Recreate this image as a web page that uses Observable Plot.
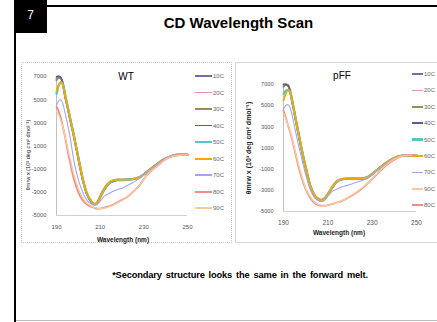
<!DOCTYPE html>
<html><head><meta charset="utf-8">
<script src="https://cdn.jsdelivr.net/npm/d3@7"></script>
<script src="https://cdn.jsdelivr.net/npm/@observablehq/plot@0.6"></script>
<style>
body{margin:0;background:#fff;}
#slide{position:relative;width:437px;height:322px;overflow:hidden;font-family:"Liberation Sans",Arial,sans-serif;background:#fff;}
.abs{position:absolute;}
.lg{position:absolute;font-size:6px;color:#666;white-space:nowrap;line-height:6px;}
.ylab{position:absolute;transform:translate(-50%,-50%) rotate(-90deg);white-space:nowrap;color:#222;}
.xlab{position:absolute;transform:translate(-50%,-50%);white-space:nowrap;color:#222;}
</style></head>
<body>
<div id="slide"></div>
<script>
// ---- data ----
const wavelengths = [190,191,192,193,194,195,196,198,200,202,204,206,207,208,209,210,212,214,216,218,220,222,225,228,230,233,236,240,243,246,250];
const seriesNames = ["10C","20C","30C","40C","50C","60C","70C","80C","90C"];
const seriesColors = ["#7d69a6","#e890c0","#9b8b58","#585e90","#4cc9c8","#f7a800","#a3a3f5","#f28a86","#fbc99a"];
const seriesWidths = [2,1,2.5,1.5,2.5,2,1.2,2,1.5];

const wt10 = [6900,7000,6900,6300,5200,4400,3500,1800,-100,-1900,-3200,-3850,-4000,-4000,-3800,-3400,-2700,-2250,-2050,-1950,-1950,-1900,-1850,-1700,-1450,-1000,-600,-100,150,250,250];
const wt20 = [6800,6950,6850,6250,5150,4350,3450,1750,-150,-1950,-3250,-3900,-4000,-4000,-3800,-3450,-2750,-2300,-2050,-1950,-1950,-1900,-1850,-1700,-1450,-1000,-600,-100,150,250,250];
const wt30 = [6700,6900,6850,6300,5300,4450,3550,1850,0,-1850,-3150,-3800,-4000,-4000,-3750,-3350,-2650,-2200,-2000,-1900,-1900,-1900,-1850,-1700,-1450,-1000,-550,-50,150,250,250];
const wt40 = [7000,7000,6900,6250,5200,4400,3500,1800,-150,-1950,-3200,-3850,-4050,-4050,-3850,-3450,-2750,-2250,-2050,-1950,-1950,-1900,-1850,-1700,-1450,-1000,-600,-100,150,250,250];
const wt50 = [5500,6200,6500,6300,5400,4500,3600,1850,0,-1850,-3150,-3800,-4000,-4050,-3850,-3450,-2750,-2250,-2000,-1950,-1950,-1900,-1850,-1700,-1450,-1000,-600,-100,150,250,250];
const wt60 = [5700,6300,6500,6200,5300,4450,3550,1850,0,-1800,-3100,-3750,-3950,-4000,-3800,-3400,-2650,-2150,-1950,-1900,-1900,-1900,-1850,-1700,-1450,-1000,-600,-100,150,250,250];
const wt70 = [4500,4900,5000,4600,3800,2900,2000,-300,-1900,-3000,-3700,-4000,-4100,-4100,-3950,-3750,-3300,-3100,-2900,-2750,-2650,-2450,-2150,-1800,-1450,-1000,-600,-50,150,250,250];
const wt80 = [4400,4000,3400,2600,1700,700,-200,-1900,-3000,-3700,-4050,-4250,-4300,-4400,-4400,-4400,-4300,-4200,-4050,-3850,-3650,-3450,-2950,-2400,-1850,-1200,-750,-150,100,200,250];
const wt90 = [4000,3700,3200,2600,1800,900,100,-1500,-2700,-3500,-3950,-4200,-4300,-4350,-4400,-4400,-4350,-4250,-4100,-3900,-3700,-3450,-2950,-2400,-1850,-1200,-750,-150,100,200,250];

const pff10 = [7000,7000,6900,6300,5300,4200,3100,1000,-900,-2600,-3500,-3900,-3950,-3900,-3700,-3400,-2750,-2200,-2000,-1920,-1900,-1900,-1900,-1750,-1450,-950,-450,50,250,300,300];
const pff20 = [6900,6950,6850,6250,5250,4150,3050,950,-950,-2650,-3550,-3950,-4000,-3950,-3750,-3450,-2800,-2250,-2000,-1920,-1900,-1900,-1900,-1750,-1450,-950,-450,50,250,300,300];
const pff30 = [6800,7000,6950,6400,5400,4300,3200,1100,-800,-2500,-3450,-3850,-3900,-3850,-3650,-3350,-2700,-2150,-1950,-1900,-1900,-1900,-1900,-1750,-1450,-950,-450,50,250,300,300];
const pff40 = [7000,7000,6900,6300,5300,4200,3100,1000,-900,-2600,-3550,-3950,-4000,-3950,-3750,-3450,-2750,-2200,-2000,-1920,-1900,-1900,-1900,-1750,-1450,-950,-450,50,250,300,300];
const pff50 = [6100,6400,6500,6200,5300,4250,3150,1050,-850,-2550,-3500,-3900,-3950,-3900,-3700,-3400,-2700,-2200,-2000,-1920,-1900,-1900,-1900,-1750,-1450,-950,-450,50,250,300,300];
const pff60 = [5500,6100,6500,6300,5400,4300,3200,1100,-800,-2500,-3450,-3850,-3950,-3900,-3700,-3400,-2700,-2150,-1950,-1900,-1900,-1900,-1900,-1750,-1450,-950,-450,50,250,300,300];
const pff70 = [4700,5000,5100,4800,4000,3000,2000,200,-1500,-2900,-3700,-4000,-4050,-4000,-3800,-3550,-3100,-2900,-2700,-2580,-2450,-2300,-2100,-1850,-1550,-1000,-500,0,200,300,300];
const pff80 = [4500,3900,3200,2500,1700,800,-100,-1700,-2900,-3700,-4200,-4400,-4450,-4450,-4450,-4400,-4300,-4150,-4050,-3850,-3600,-3350,-2900,-2350,-1950,-1300,-700,-100,200,300,300];
const pff90 = [4300,3800,3200,2600,1800,900,50,-1500,-2800,-3600,-4100,-4350,-4400,-4450,-4450,-4400,-4300,-4150,-4000,-3800,-3550,-3300,-2850,-2300,-1900,-1250,-650,-50,200,300,300];

const xTicks = [190,210,230,250];
const yTicks = [7000,5000,3000,1000,-1000,-3000,-5000];
const wtLegendOrder = ["10C","20C","30C","40C","50C","60C","70C","80C","90C"];
const pffLegendOrder = ["10C","20C","30C","40C","50C","60C","70C","90C","80C"];

const slideTitle = "CD Wavelength Scan";
const slideNumber = "7";
const footnote = "*Secondary structure  looks the same in the forward melt.";
const yLabel = "θmrw x (10³ deg cm² dmol⁻¹)";
const xLabel = "Wavelength (nm)";

const wtSeries = [wt10,wt20,wt30,wt40,wt50,wt60,wt70,wt80,wt90];
const pffSeries = [pff10,pff20,pff30,pff40,pff50,pff60,pff70,pff80,pff90];

// ---- page ----
const slide = document.getElementById("slide");
function box(css, html){const d=document.createElement("div");d.className="abs";d.style.cssText=css;if(html!==undefined)d.textContent=html;slide.appendChild(d);return d;}

box("left:14px;top:0;width:2px;height:322px;background:#000;");
box("left:14px;top:0;width:33px;height:33px;background:#000;");
box("left:14px;top:8px;width:33px;color:#fff;font-size:12px;text-align:center;line-height:14px;", slideNumber);
box("left:47px;top:5px;width:390px;height:1.5px;background:#000;");
box("left:16px;top:320px;width:421px;height:1px;background:#bbb;");
box("left:0;top:15px;width:477px;text-align:center;font-weight:bold;font-size:15px;color:#000;line-height:16px;", slideTitle);
box("left:0;top:270px;width:480px;text-align:center;font-weight:bold;font-size:9.3px;color:#000;line-height:10px;word-spacing:1.5px;letter-spacing:-0.15px;", footnote);

// panel frames
box("left:21px;top:62px;width:211px;height:181px;border:1px dotted #c8c8c8;box-sizing:border-box;");
box("left:235px;top:62px;width:210px;height:181px;border:1px solid #d9d9d9;box-sizing:border-box;");

function panel(o){
  const marks = [
    Plot.ruleX([190],{stroke:"#c0c0c0",strokeWidth:1}),
    Plot.ruleY([-5000],{stroke:"#d0d0d0",strokeWidth:1})
  ];
  o.series.forEach((vals,i)=>{
    const d = wavelengths.map((nm,j)=>({nm, v:vals[j]}));
    marks.push(Plot.line(d,{x:"nm",y:"v",stroke:seriesColors[i],strokeWidth:seriesWidths[i]*0.9,curve:"monotone-x"}));
  });
  marks.push(Plot.axisX({ticks:xTicks,tickSize:0,tickPadding:o.xpad,label:null,fontSize:o.xfs,tickFormat:d=>String(d)}));
  marks.push(Plot.axisY({ticks:yTicks,tickSize:0,tickPadding:o.ypad,label:null,fontSize:o.yfs,tickFormat:d=>String(d)}));
  const svg = Plot.plot({
    width:o.w,height:o.h,marginLeft:o.ml,marginRight:o.mr,marginTop:o.mt,marginBottom:o.mb,
    x:{domain:[190,250]}, y:{domain:[-5000,7000]},
    style:{background:"transparent",color:"#555",fontFamily:"'Liberation Sans',Arial,sans-serif"},
    marks
  });
  svg.style.position="absolute";svg.style.left=o.left+"px";svg.style.top=o.top+"px";
  slide.appendChild(svg);
  box(`left:${o.tx-30}px;top:${o.ty-7}px;width:60px;text-align:center;font-size:${o.tfs}px;color:#000;line-height:14px;`, o.title);
  const yl=document.createElement("div");yl.className="ylab";yl.style.left=o.ylx+"px";yl.style.top=o.yly+"px";yl.style.fontSize=o.ylfs+"px";yl.style.fontWeight=o.ylfw;yl.textContent=yLabel;slide.appendChild(yl);
  const xl=document.createElement("div");xl.className="xlab";xl.style.left=o.xlx+"px";xl.style.top=o.xly+"px";xl.style.fontSize="6.5px";xl.style.fontWeight="bold";xl.textContent=xLabel;slide.appendChild(xl);
  o.legend.forEach((name,k)=>{
    const i = seriesNames.indexOf(name);
    const y = o.ly + k*o.lstep;
    const w = seriesWidths[i];
    box(`left:${o.lx}px;top:${y-w/2}px;width:${o.lw}px;height:${w}px;background:${seriesColors[i]};`);
    const t=document.createElement("div");t.className="lg";t.style.left=(o.lx+o.lw+1)+"px";t.style.top=(y-3)+"px";t.textContent=name;slide.appendChild(t);
  });
}

panel({series:wtSeries,left:20,top:60,w:212,h:183,ml:36,mr:45,mt:16,mb:28,xpad:9,ypad:10,xfs:6,yfs:5.8,
  title:"WT",tx:126,ty:77,tfs:10,ylx:28,yly:155,ylfs:5.6,ylfw:"normal",xlx:123,xly:239,
  legend:wtLegendOrder,lx:195,ly:76,lstep:16.5,lw:17});
panel({series:pffSeries,left:233,top:60,w:204,h:183,ml:50,mr:21,mt:24,mb:32,xpad:9,ypad:10,xfs:6.5,yfs:5.6,
  title:"pFF",tx:342,ty:76,tfs:10,ylx:248,yly:148,ylfs:7,ylfw:"bold",xlx:339,xly:232,
  legend:pffLegendOrder,lx:412,ly:74,lstep:16.4,lw:11});
</script>
</body></html>
